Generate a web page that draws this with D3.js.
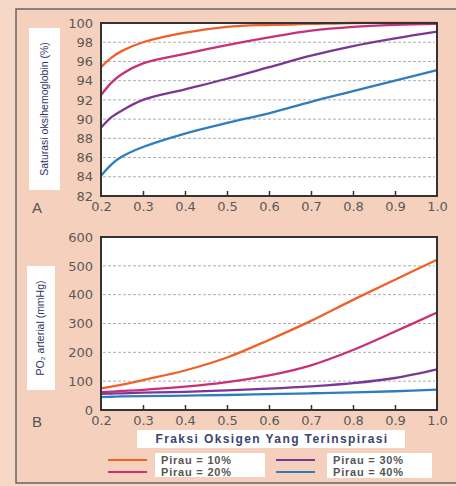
<!DOCTYPE html>
<html>
<head>
<meta charset="utf-8">
<script src="https://cdn.jsdelivr.net/npm/d3@7"></script>
<style>
body { margin: 0; background: #f6d3c0; }
text { font-family: "Liberation Sans", Arial, sans-serif; }
.tick text { font-family: "DejaVu Sans", sans-serif; }
</style>
</head>
<body>
<script>
// shared x values (fraction of inspired oxygen)
let fio2 = [0.2, 0.225, 0.25, 0.3, 0.4, 0.5, 0.6, 0.7, 0.8, 0.9, 1.0];
let xTicks = [0.2, 0.3, 0.4, 0.5, 0.6, 0.7, 0.8, 0.9, 1.0];

let shunts = ["Pirau = 10%", "Pirau = 20%", "Pirau = 30%", "Pirau = 40%"];
let colors = ["#ee6128", "#c8307a", "#7c3795", "#2f7dbf"];

// panel A: saturasi oksihemoglobin (%)
let satA10 = [95.4, 96.4, 97.1, 98.0, 99.0, 99.6, 99.8, 99.9, 100, 100, 100];
let satA20 = [92.5, 93.8, 94.7, 95.8, 96.8, 97.7, 98.5, 99.2, 99.6, 99.8, 99.9];
let satA30 = [89.1, 90.2, 90.9, 92.0, 93.1, 94.2, 95.4, 96.6, 97.6, 98.4, 99.1];
let satA40 = [84.1, 85.3, 86.1, 87.1, 88.5, 89.6, 90.6, 91.8, 92.9, 94.0, 95.1];
let yTicksA = [82, 84, 86, 88, 90, 92, 94, 96, 98, 100];

// panel B: PO2 arterial (mmHg)
let po2B10 = [75, 81, 88, 104, 137, 182, 243, 309, 382, 452, 521];
let po2B20 = [62, 64, 66, 70, 81, 97, 120, 155, 208, 272, 338];
let po2B30 = [56, 57, 58, 60, 63, 68, 74, 82, 93, 111, 141];
let po2B40 = [45, 46, 47, 48, 50, 52, 55, 58, 61, 65, 71];
let yTicksB = [0, 100, 200, 300, 400, 500, 600];

let w = 456, h = 486;

let svg = d3.select("body").append("svg")
  .attr("width", w).attr("height", h);

svg.append("rect").attr("width", w).attr("height", h).attr("fill", "#f7d8c6");
svg.append("rect").attr("x", 16).attr("y", 9).attr("width", w).attr("height", 474)
  .attr("fill", "#f5d0bc").attr("stroke", "#666").attr("stroke-width", 1.5);

function panel(top, bottom, yDomain, yTicks, series, letter, yTitle, titleBox, titleSize) {
  let x = d3.scaleLinear().domain([0.2, 1.0]).range([101, 437]);
  let y = d3.scaleLinear().domain(yDomain).range([bottom, top]);

  let g = svg.append("g");
  g.append("rect").attr("x", 101).attr("y", top).attr("width", 336).attr("height", bottom - top)
    .attr("fill", "#fff");

  // grid
  g.selectAll(".grid").data(yTicks.slice(1, -1)).enter().append("line")
    .attr("x1", 103).attr("x2", 435)
    .attr("y1", d => y(d)).attr("y2", d => y(d))
    .attr("stroke", "#999").attr("stroke-width", 0.8).attr("stroke-dasharray", "3,2");

  let line = d3.line().x((d, i) => x(fio2[i])).y(d => y(d)).curve(d3.curveCatmullRom.alpha(0.5));
  series.forEach((s, k) => {
    g.append("path").datum(s).attr("d", line)
      .attr("fill", "none").attr("stroke", colors[k]).attr("stroke-width", 2.3);
  });

  // frame
  g.append("rect").attr("x", 101).attr("y", top).attr("width", 336).attr("height", bottom - top)
    .attr("fill", "none").attr("stroke", "#333").attr("stroke-width", 2);

  let xAxis = d3.axisBottom(x).tickValues(xTicks).tickFormat(d3.format(".1f")).tickSize(-5).tickPadding(8);
  let xg = g.append("g").attr("transform", "translate(0," + bottom + ")").call(xAxis);
  xg.select(".domain").remove();
  xg.selectAll("line").attr("stroke", "#333").attr("stroke-width", 1.5)
    .filter(d => d == 0.2 || d == 1.0).remove();
  xg.selectAll("text").attr("font-size", 13).attr("fill", "#5a5a5a").attr("dy", "0.5em");

  let yAxis = d3.axisLeft(y).tickValues(yTicks).tickSize(0).tickPadding(8);
  let yg = g.append("g").attr("transform", "translate(101,0)").call(yAxis);
  yg.select(".domain").remove();
  yg.selectAll("text").attr("font-size", 13).attr("fill", "#5a5a5a");

  g.append("text").attr("x", 32).attr("y", bottom + 17).text(letter)
    .attr("font-size", 15).attr("fill", "#555");

  g.append("rect").attr("x", titleBox[0]).attr("y", titleBox[1])
    .attr("width", titleBox[2]).attr("height", titleBox[3]).attr("fill", "#fff");
  g.append("text")
    .attr("transform", "translate(" + (titleBox[0] + titleBox[2] / 2 + 3) + "," + (titleBox[1] + titleBox[3] / 2) + ") rotate(-90)")
    .attr("text-anchor", "middle").attr("font-size", titleSize).attr("fill", "#2d3660")
    .text(yTitle);
}

panel(23, 196, [82, 100], yTicksA, [satA10, satA20, satA30, satA40], "A",
  "Saturasi oksihemoglobin (%)", [29, 28, 31, 162], 10.5);
panel(237, 410, [0, 600], yTicksB, [po2B10, po2B20, po2B30, po2B40], "B",
  "PO\u2082 arterial (mmHg)", [27, 266, 28, 124], 10.5);

// x title
svg.append("rect").attr("x", 137).attr("y", 430).attr("width", 268).attr("height", 18).attr("fill", "#fff");
svg.append("text").attr("x", 272).attr("y", 443).attr("text-anchor", "middle")
  .attr("font-size", 12).attr("font-weight", "bold").attr("fill", "#3a4470")
  .attr("letter-spacing", 1.4)
  .text("Fraksi Oksigen Yang Terinspirasi");

// legend
let legPos = [[108, 460, 155], [108, 472, 155], [276, 460, 327], [276, 472, 327]];
svg.append("rect").attr("x", 155).attr("y", 453).attr("width", 110).attr("height", 24).attr("fill", "#fff");
svg.append("rect").attr("x", 327).attr("y", 453).attr("width", 105).attr("height", 25).attr("fill", "#fff");
let leg = svg.selectAll(".leg").data(shunts).enter().append("g");
leg.append("line")
  .attr("x1", (d, i) => legPos[i][0]).attr("x2", (d, i) => legPos[i][0] + 39)
  .attr("y1", (d, i) => legPos[i][1]).attr("y2", (d, i) => legPos[i][1])
  .attr("stroke", (d, i) => colors[i]).attr("stroke-width", 2.2);
leg.append("text")
  .attr("x", (d, i) => legPos[i][2] + 6).attr("y", (d, i) => legPos[i][1] + 4)
  .attr("font-size", 11).attr("font-weight", "bold").attr("fill", "#555")
  .attr("letter-spacing", 0.8)
  .text(d => d);
</script>
</body>
</html>
